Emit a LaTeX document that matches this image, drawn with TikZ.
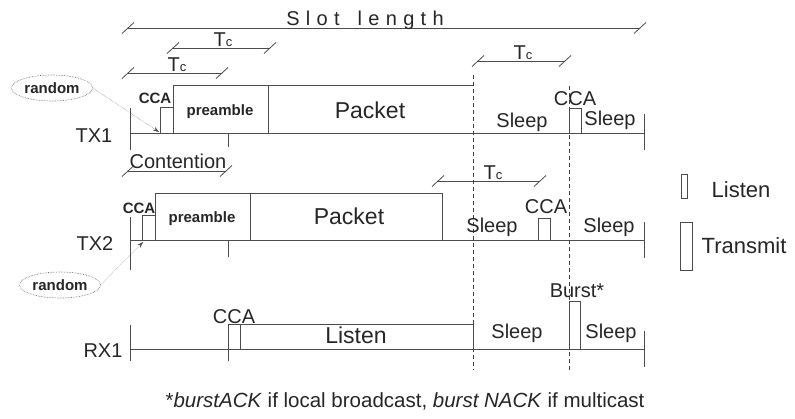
\documentclass[tikz,border=0pt]{standalone}
\usepackage{fontspec}
\setmainfont{Liberation Sans}
\usetikzlibrary{shapes.geometric,arrows.meta}

\newcommand{\lsp}{\hspace{6.3pt}}

\tikzset{
  lbl/.style={font=\fontsize{20}{24}\selectfont, inner sep=0pt, anchor=base, text=black!85},
  big/.style={lbl, font=\fontsize{23}{27}\selectfont},
  blbl/.style={lbl, font=\bfseries\fontsize{15}{18}\selectfont},
  frame/.style={draw=black!70, line width=0.8pt},
  dashline/.style={draw=black!75, line width=0.7pt, dash pattern=on 4pt off 3pt},
  rnd/.style={ellipse, draw=black!65, densely dotted, line width=0.6pt, minimum width=81pt,
    minimum height=26pt, inner sep=0pt, font=\bfseries\fontsize{15}{18}\selectfont, text=black!85},
}

\begin{document}
\begin{tikzpicture}[x=1pt,y=-1pt]
\useasboundingbox (0,0) rectangle (795,418);

% spans with slanted end ticks
\foreach \a/\b/\y in {128/640/28, 173/270/48, 128/222/73, 478/565/61, 128/226/171, 438/540/181}
{
	\draw[frame] (\a,\y) -- (\b,\y);
	\draw[frame] (\a-6,\y+5.5) -- (\a+6,\y-5.5);
	\draw[frame] (\b-6,\y+5.5) -- (\b+6,\y-5.5);
}
\node[lbl] (slot) at (365,25) {S\lsp l\lsp o\lsp t\hspace{18pt}l\lsp e\lsp n\lsp g\lsp t\lsp h};
\node[lbl] (tc1) at (223,46) {T{\fontsize{13}{13}\selectfont c}};
\node[lbl] (tc2) at (177,71) {T{\fontsize{13}{13}\selectfont c}};
\node[lbl] (tc3) at (523,59) {T{\fontsize{13}{13}\selectfont c}};
\node[lbl] (tc4) at (493,179) {T{\fontsize{13}{13}\selectfont c}};
\node[lbl] (cont) at (178,168) {Contention};

% time axes
\foreach \y/\t/\b/\et/\eb/\k in {133/108/150/114/150/147, 240/217/270/222/258/257, 349/325/361/331/367/361}
{
	\draw[frame] (130,\y) -- (644,\y);
	\draw[frame] (130,\t) -- (130,\b);
	\draw[frame] (644,\et) -- (644,\eb);
	\draw[frame] (228,\y) -- (228,\k);
}
\node[lbl] (tx1) at (94,142) {TX1};
\node[lbl] (tx2) at (95,250) {TX2};
\node[lbl] (rx1) at (103,357) {RX1};

% slot boundaries
\draw[dashline] (473,75) -- (473,370);
\draw[dashline] (569,86) -- (569,370);

% TX1
\draw[frame] (160,107) rectangle (173,133);
\draw[frame] (173,85) rectangle (268,133);
\draw[frame] (473,85) -- (268,85) -- (268,133);
\draw[frame] (569,108) rectangle (581,133);
\node[blbl] (cca1) at (155,103) {CCA};
\node[blbl] (pre1) at (220,115) {preamble};
\node[big] (pkt1) at (370,118) {Packet};
\node[lbl] (slp1) at (522,127) {Sleep};
\node[lbl] (cca1b) at (575,105) {CCA};
\node[lbl] (slp1b) at (610,125) {Sleep};

% TX2
\draw[frame] (142,215) rectangle (155,240);
\draw[frame] (155,193) rectangle (250,240);
\draw[frame] (250,193) rectangle (442,240);
\draw[frame] (538,218) rectangle (550,240);
\node[blbl] (cca2) at (139,213) {CCA};
\node[blbl] (pre2) at (202,222) {preamble};
\node[big] (pkt2) at (349,224) {Packet};
\node[lbl] (slp2) at (492,232) {Sleep};
\node[lbl] (cca2b) at (546,213) {CCA};
\node[lbl] (slp2b) at (609,232) {Sleep};

% RX1
\draw[frame] (228,324) rectangle (240,349);
\draw[frame] (240,324) rectangle (473,349);
\draw[frame] (569,301) rectangle (580,349);
\node[lbl] (cca3) at (234,323) {CCA};
\node[big] (lst) at (356,343) {Listen};
\node[lbl] (bst) at (577,297) {Burst*};
\node[lbl] (slp3) at (517,338) {Sleep};
\node[lbl] (slp3b) at (611,338) {Sleep};

% random backoff
\node[rnd] (rand1) at (52,88) {random};
\node[rnd] (rand2) at (60,285) {random};
\coordinate (r1) at (159,132);
\coordinate (r2) at (143,242);
\draw[densely dotted, black!70, -{Stealth[length=6pt,width=4pt]}] (rand1.east) -- (r1);
\draw[densely dotted, black!70, -{Stealth[length=6pt,width=4pt]}] (rand2.east) -- (r2);

% legend
\draw[frame] (681,174) rectangle (687,198);
\draw[frame] (680,222) rectangle (692,270);
\node[lbl, font=\fontsize{22}{26}\selectfont] (leg1) at (741,197) {Listen};
\node[lbl, font=\fontsize{22}{26}\selectfont] (leg2) at (744,253) {Transmit};

\node[lbl, font=\fontsize{20.5}{24}\selectfont] (note) at (405,407) {*\textit{burstACK} if local broadcast, \textit{burst NACK} if multicast};
\end{tikzpicture}
\end{document}
